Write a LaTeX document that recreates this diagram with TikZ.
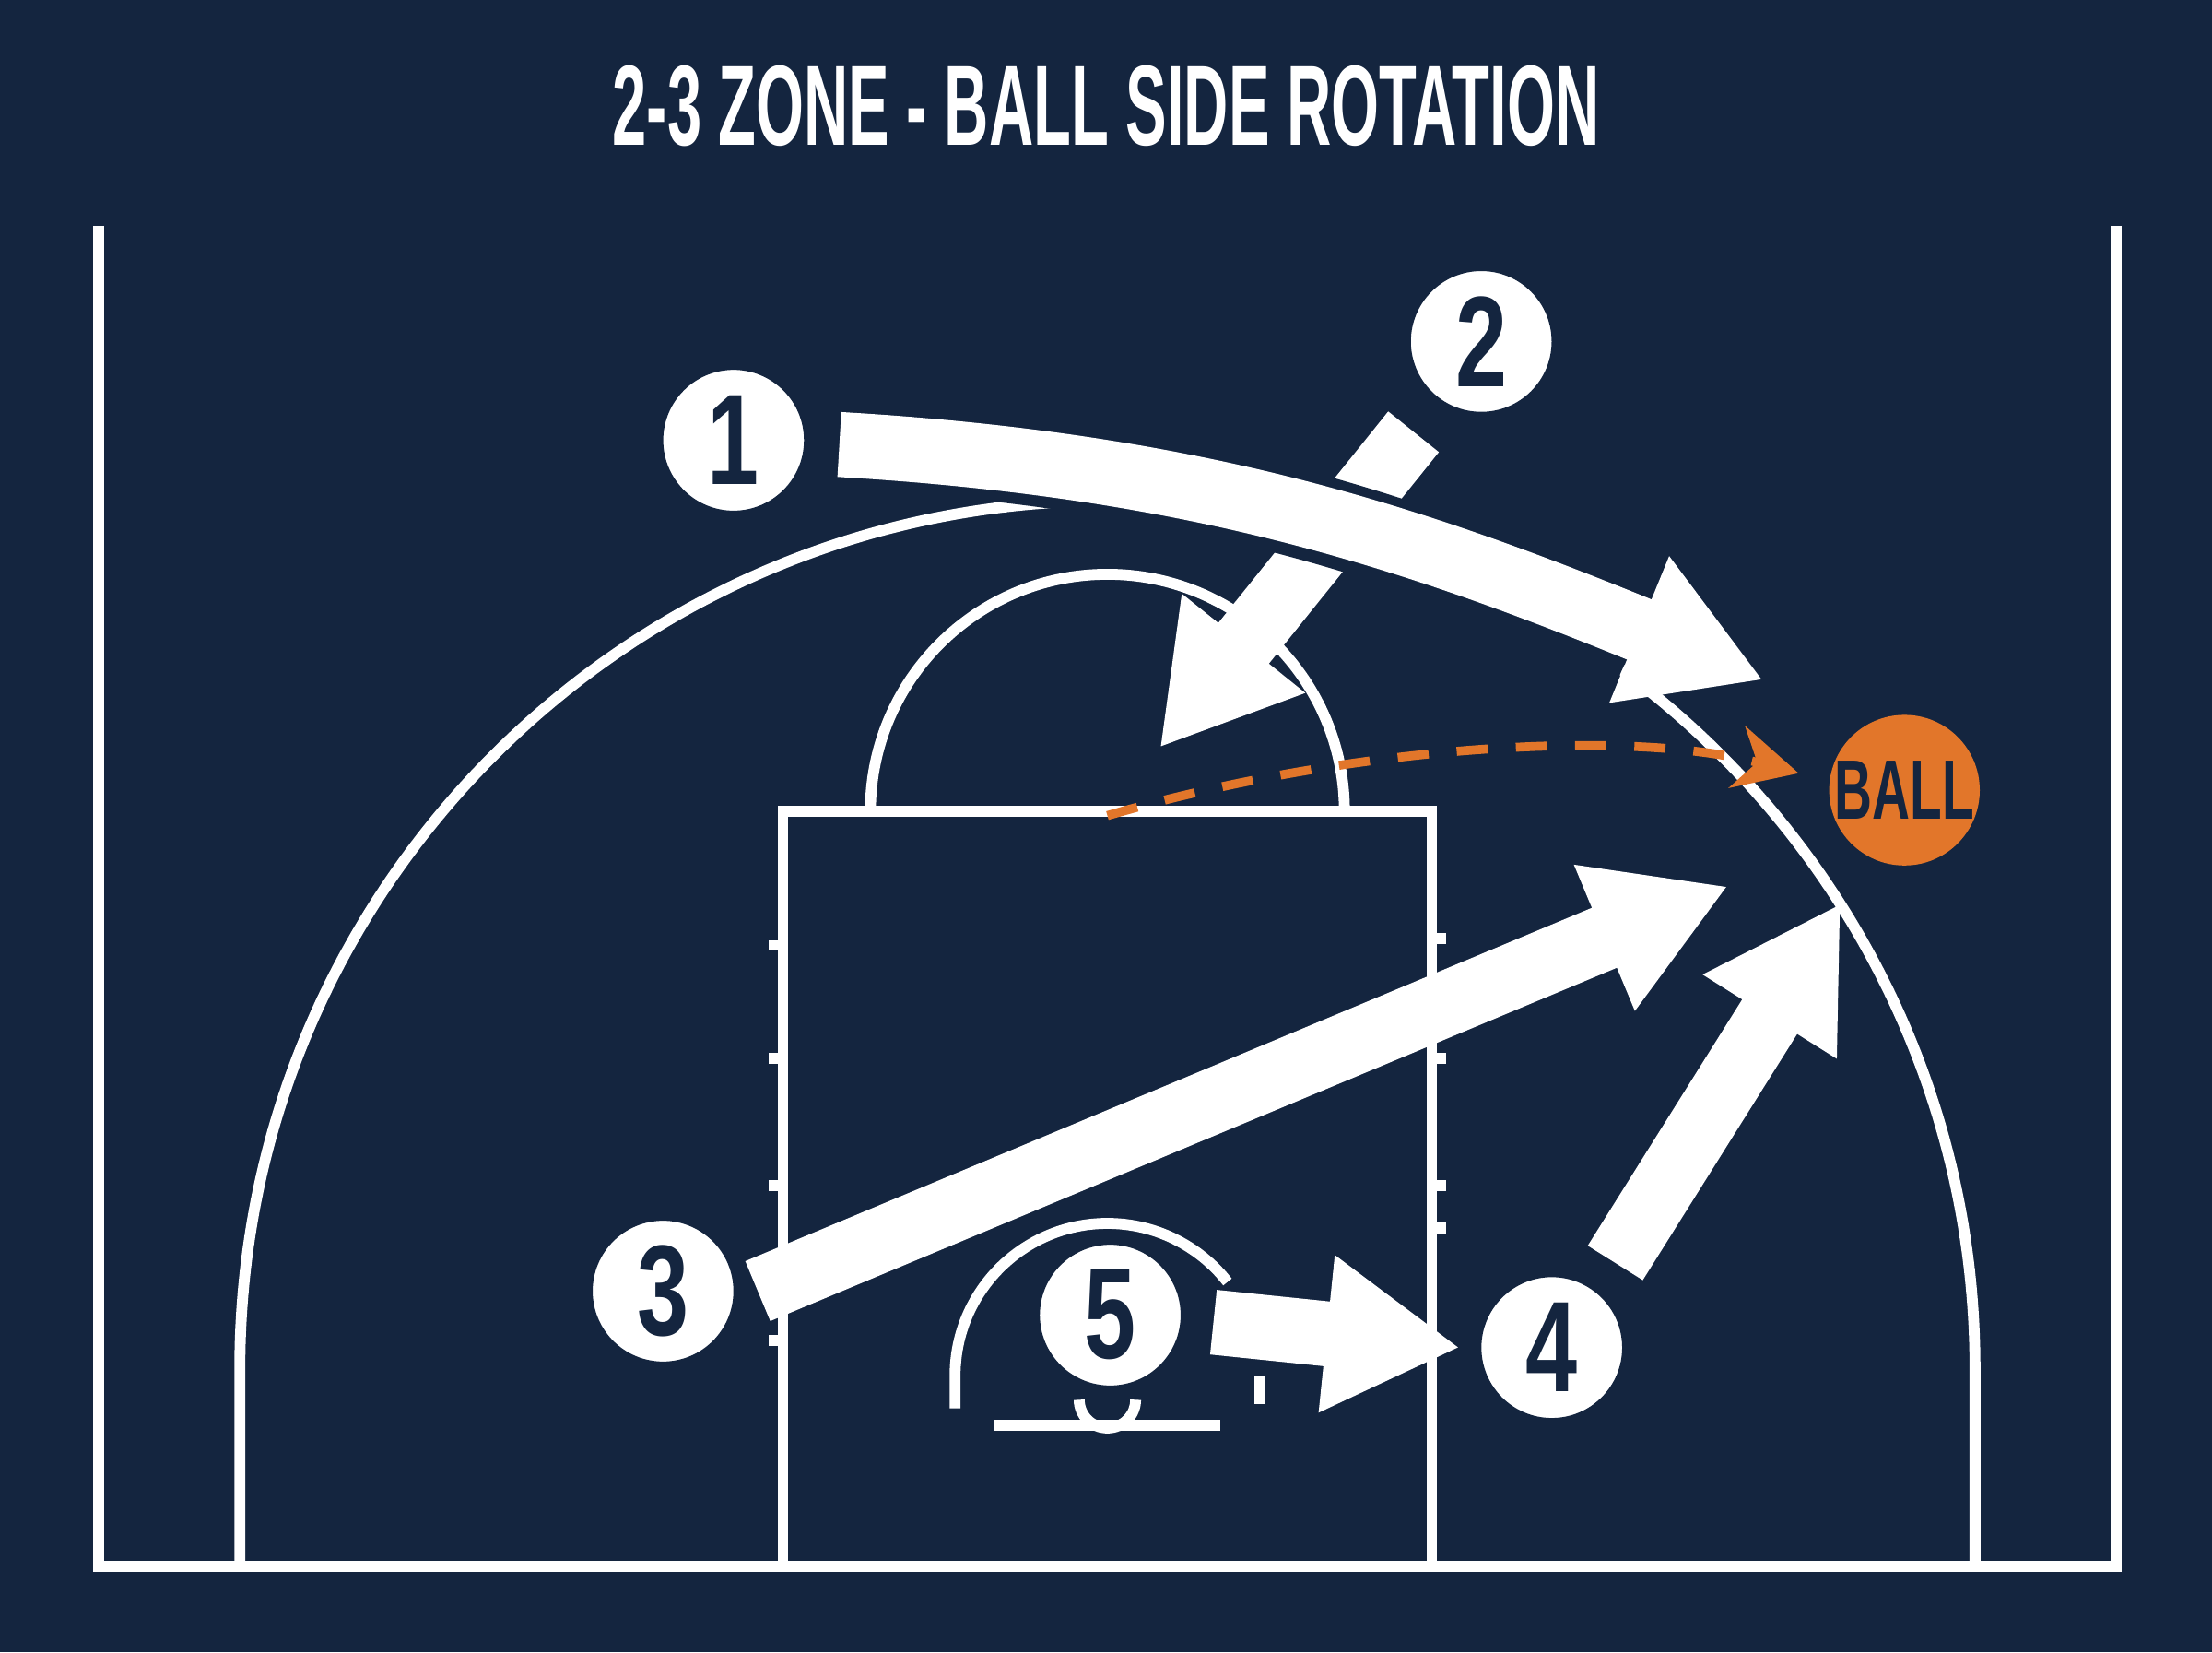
\documentclass[tikz,border=0pt]{standalone}
\usepackage{fontspec}
\setsansfont{Liberation Sans}
\usetikzlibrary{arrows.meta}
\definecolor{navy}{HTML}{14253F}
\definecolor{ballorange}{HTML}{E2762A}
\tikzset{
  court/.style={draw=white, line width=2.2pt},
  player/.style={circle, fill=white, draw=navy, line width=1.5pt, minimum size=1.05cm, inner sep=0pt,
    font=\sffamily\bfseries\fontsize{26}{26}\selectfont, text=navy},
  move/.style={draw=white, line width=0.46cm,
    -{Triangle[length=0.95cm,width=1.05cm,fill=white]}},
  pass/.style={draw=ballorange, line width=1.8pt, dash pattern=on 0.22cm off 0.2cm,
    -{Stealth[length=0.45cm,width=0.45cm]}}
}
\newcommand\narrow[1]{\scalebox{0.72}[1]{#1}}
\begin{document}
\begin{tikzpicture}[x=0.01cm,y=-0.01cm]
  \fill[navy] (0,0) rectangle (1568,1171);
  \useasboundingbox (0,0) rectangle (1568,1171);
  % title
  \node[text=white, font=\sffamily\bfseries\fontsize{23}{23}\selectfont, xscale=0.54] (title) at (784,75) {2-3 ZONE - BALL SIDE ROTATION};
  % court
  \draw[court] (70,160) -- (70,1110) -- (1500,1110) -- (1500,160);
  \draw[court] (170,1110) -- (170,970) arc[start angle=180, end angle=360, radius=615] -- (1400,1110);
  \draw[court] (555,1110) -- (555,575) -- (1015,575) -- (1015,1110);
  \draw[court] (617,575) arc[start angle=180, end angle=360, radius=168];
  \foreach \y in {670,750,840,950}{\draw[court] (545,\y) -- (555,\y);}
  \foreach \y in {665,750,840,870}{\draw[court] (1015,\y) -- (1025,\y);}
  \draw[court] (677,998) -- (677,975) arc[start angle=180, end angle=322, radius=108];
  \draw[court] (705,1010) -- (865,1010);
  \draw[court] (765,992) arc[start angle=180, end angle=0, radius=20];
  \draw[court] (893,975) -- (893,995);
  % players
  \node[player] (p1) at (520,312) {\narrow{1}};
  \node[player] (p2) at (1050,242) {\narrow{2}};
  \node[player] (p3) at (470,915) {\narrow{3}};
  \node[player] (p5) at (787,932) {\narrow{5}};
  \node[player] (p4) at (1100,955) {\narrow{4}};
  \node[circle, fill=ballorange, minimum size=1.06cm, inner sep=0pt, text=navy,
    font=\sffamily\bfseries\fontsize{17}{17}\selectfont] (ball) at (1350,560) {\scalebox{0.62}[1]{BALL}};
  % rotations
  \coordinate (t1) at (1250,482);
  \coordinate (t2) at (822,530);
  \coordinate (t3) at (1225,628);
  \coordinate (t4) at (1305,640);
  \coordinate (t5) at (1035,955);
  \draw[move] (1002,306) -- (t2);
  \draw[navy, line width=0.62cm] (595,315) .. controls (850,330) and (1000,380) .. (1160,452);
  \draw[move] (595,315) .. controls (850,330) and (1000,380) .. (t1);
  \draw[move] (p3.east) ++(12,0) -- (t3);
  \draw[move] (1145,895) -- (t4);
  \draw[move] (p5.east) ++(18,5) -- (t5);
  % pass
  \coordinate (c1) at (785,578);
  \draw[pass] (c1) .. controls (950,530) and (1150,515) .. (1275,548);
\end{tikzpicture}
\end{document}
